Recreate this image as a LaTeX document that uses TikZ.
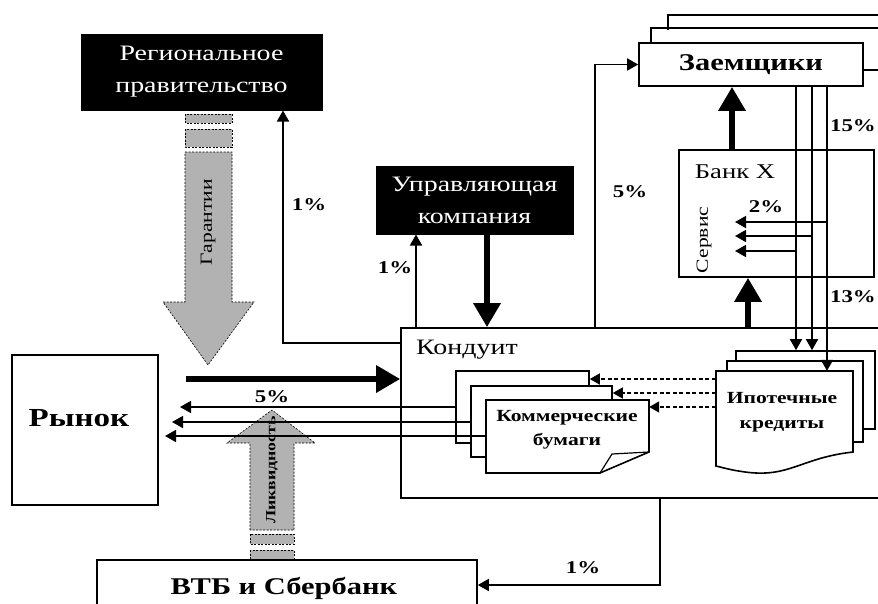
\documentclass[tikz,border=0pt]{standalone}
\usepackage{fontspec}
\setmainfont[FakeStretch=1.27]{Liberation Serif}
\usetikzlibrary{arrows.meta,calc}
\begin{document}
\begin{tikzpicture}[x=1pt,y=-1pt,
  box/.style={draw,line width=1.6pt,fill=white,inner sep=0pt},
  boxline/.style={draw,line width=1.6pt,fill=white},
  blk/.style={draw,line width=1pt,fill=black,text=white,inner sep=0pt,align=center,font=\fontsize{22}{32}\selectfont},
  txt/.style={inner sep=0pt,align=center},
  conn/.style={line width=1.6pt,-{Triangle[length=11pt,width=12pt]}},
  dconn/.style={line width=1.6pt,dash pattern=on 4pt off 2.5pt,-{Triangle[length=10pt,width=11pt]}},
  fat/.style={line width=6pt,-{Triangle[length=24pt,width=26pt]}},
  pct/.style={inner sep=0pt,font=\fontsize{18}{20}\selectfont\bfseries},
  greyarrow/.style={fill=black!30,draw,line width=0.6pt,dash pattern=on 2pt off 1.5pt},
]
\useasboundingbox (0,0) rectangle (878,603);
\clip (0,0) rectangle (878,603);

% --- grey arrows
\path[greyarrow] (185,114) rectangle (232,123);
\path[greyarrow] (185,129) rectangle (232,147);
\path[greyarrow] (185,152) -- (232,152) -- (232,302) -- (254,302) -- (208,365) -- (163,302) -- (185,302) -- cycle;
\node[txt,rotate=90,font=\fontsize{17}{20}\selectfont] (gar) at (208,222) {Гарантии};

\path[greyarrow] (250,530) -- (250,443) -- (227,443) -- (272,410) -- (315,443) -- (294,443) -- (294,530) -- cycle;
\path[greyarrow] (250,534) rectangle (294,544);
\path[greyarrow] (250,550) rectangle (294,559);
\node[txt,rotate=90,font=\fontsize{14}{16}\selectfont\bfseries] (liq) at (272,470) {Ликвидность};

% --- main boxes
\node[blk,minimum width=241,minimum height=76] (gov) at (201.5,72) {Региональное\\правительство};
\node[blk,minimum width=197,minimum height=68] (uk) at (474.5,200) {Управляющая\\компания};
\node[box,minimum width=499,minimum height=170] (kond) at (650.5,413) {};
\node[txt,anchor=west,font=\fontsize{22}{24}\selectfont] (kondt) at (416,350) {Кондуит};
\node[box,minimum width=146,minimum height=150] (rynok) at (85,430) {};
\node[txt,font=\fontsize{26}{28}\selectfont\bfseries] (rynokt) at (79,418) {Рынок};
\node[box,minimum width=380,minimum height=54] (vtb) at (287,587) {};
\node[txt,font=\fontsize{24}{26}\selectfont\bfseries] (vtbt) at (284,588) {ВТБ и Сбербанк};

% --- borrowers stack
\draw[line width=1.6pt] (668,30) -- (668,15) -- (900,15);
\draw[line width=1.6pt] (651,43) -- (651,28) -- (900,28);
\node[box,minimum width=224,minimum height=43,font=\fontsize{24}{26}\selectfont\bfseries] (zaem) at (751,64.5) {Заемщики};

% --- bank X
\node[box,minimum width=195,minimum height=127] (bank) at (776.5,213.5) {};
\node[txt,font=\fontsize{21}{24}\selectfont] (bankt) at (735,172) {Банк X};
\node[txt,rotate=90,font=\fontsize{17}{20}\selectfont] (serv) at (704,240) {Сервис};

% --- commercial paper stack
\node[box,minimum width=133,minimum height=72] (cp1) at (522.5,407) {};
\node[box,minimum width=141,minimum height=71] (cp2) at (541.5,421.5) {};
\draw[boxline] (486,400) -- (649,400) -- (649,452) -- (600,473) -- (486,473) -- cycle;
\draw[line width=1.2pt] (600,473) -- (612,454) -- (649,452);
\node[txt,minimum width=163,minimum height=73] (cp3) at (567.5,436.5) {};
\node[txt,font=\fontsize{17}{24}\selectfont\bfseries] (cpt) at (567,430) {Коммерческие\\бумаги};

% --- mortgage stack
\node[box,minimum width=139,minimum height=78] (ip3) at (805.5,390) {};
\node[box,minimum width=136,minimum height=81] (ip2) at (795,401.5) {};
\draw[boxline] (716,371) -- (853,371) -- (853,452) .. controls (800,458) and (790,478) .. (745,472) .. controls (732,470) .. (716,466) -- cycle;
\node[txt,minimum width=137,minimum height=81] (ip1) at (784.5,411.5) {};
\node[txt,font=\fontsize{17}{25}\selectfont\bfseries] (ipt) at (782,412) {Ипотечные\\кредиты};

% --- connectors
\draw[conn] (kond.west |- 0,343) -| (gov.south -| 283,0);
\draw[conn] (kond.north -| 416,0) -- (uk.south -| 416,0);
\draw[fat] (uk.south -| 487,0) -- (kond.north -| 487,0);
\draw[conn] (kond.north -| 595,0) |- (zaem.west);
\draw[fat] (bank.north -| 732,0) -- (zaem.south -| 732,0);
\draw[fat] (kond.north -| 748,0) -- (bank.south -| 748,0);

\draw[conn] (zaem.south -| 796,0) -- (ip3.north -| 796,0);
\draw[conn] (zaem.south -| 812,0) -- (ip3.north -| 812,0);
\draw[conn] (zaem.south -| 827,0) -- (ip1.north -| 827,0);
\coordinate (s1) at (735,222);
\coordinate (s2) at (735,236);
\coordinate (s3) at (735,251);
\draw[conn] (827,222) -- (s1);
\draw[conn] (812,236) -- (s2);
\draw[conn] (796,251) -- (s3);
\draw[line width=1.6pt] (zaem.east |- 0,70) -- (900,70);

\draw[dconn] (ip1.west |- 0,379) -- (cp1.east |- 0,379);
\draw[dconn] (ip1.west |- 0,393) -- (cp2.east |- 0,393);
\draw[dconn] (ip1.west |- 0,407) -- (cp3.east |- 0,407);

\coordinate (r1) at (180,407);
\coordinate (r2) at (172,422);
\coordinate (r3) at (165,436);
\draw[conn] (cp1.west |- 0,407) -- (r1);
\draw[conn] (cp2.west |- 0,422) -- (r2);
\draw[conn] (cp3.west |- 0,436) -- (r3);

\coordinate (m0) at (186,379);
\draw[fat] (m0) -- (kond.west |- m0);
\draw[conn] (kond.south -| 660,0) |- (vtb.east |- 0,585);

% --- labels
\node[pct] (p1) at (309,205) {1\%};
\node[pct] (p2) at (395,268) {1\%};
\node[pct] (p3) at (630,192) {5\%};
\node[pct,anchor=east] (p4) at (876,126) {15\%};
\node[pct,anchor=east] (p5) at (876,297) {13\%};
\node[pct] (p6) at (766,207) {2\%};
\node[pct] (p7) at (272,397) {5\%};
\node[pct] (p8) at (583,568) {1\%};
\end{tikzpicture}
\end{document}
